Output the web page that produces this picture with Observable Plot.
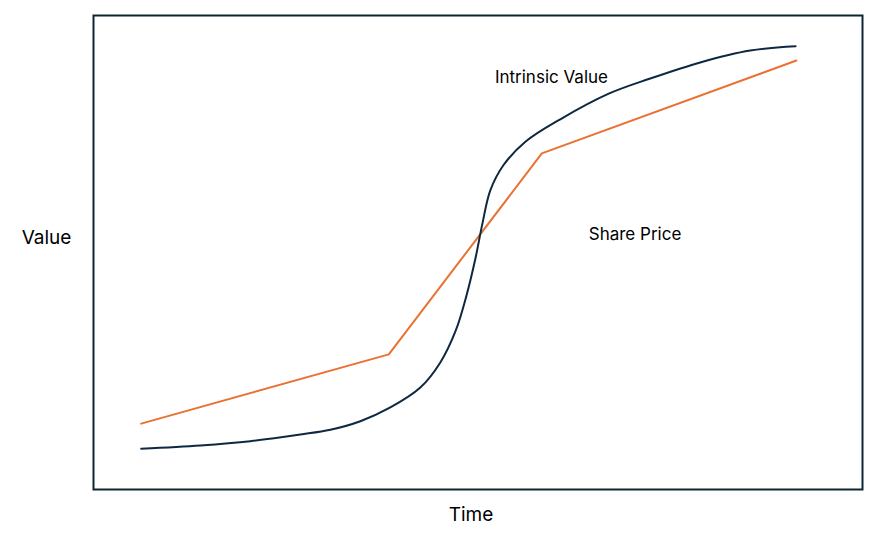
<!DOCTYPE html>
<html>
<head>
<meta charset="utf-8">
<script src="https://cdn.jsdelivr.net/npm/d3@7"></script>
<script src="https://cdn.jsdelivr.net/npm/@observablehq/plot@0.6"></script>
<style>
  html, body { margin: 0; padding: 0; background: #fff; }
  #chart svg { display: block; }
</style>
</head>
<body>
<div id="chart"></div>
<script>
// Time axis (0–100 arbitrary units), Value axis (0–100 arbitrary units)
const intrinsicTime  = [6.2, 13.9, 20.4, 26.9, 30.8, 34.7, 38.6, 42.5, 45.1, 47.1, 48.5, 49.7, 50.6, 51.6, 53.3, 56.2, 60.7, 67.0, 72.4, 78.9, 85.4, 91.3];
const intrinsicValue = [8.6, 9.3, 10.2, 11.6, 12.6, 14.4, 17.3, 21.5, 26.8, 33.5, 40.9, 49.0, 56.3, 63.1, 68.4, 73.4, 78.1, 83.5, 86.7, 90.1, 92.6, 93.5];

const shareTime  = [6.2, 38.4, 58.3, 91.4];
const shareValue = [13.9, 28.5, 70.9, 90.5];

const seriesLabels = ["Intrinsic Value", "Share Price"];
const labelTime  = [52.2, 64.4];
const labelValue = [86.9, 53.8];

const xAxisLabel = "Time";
const yAxisLabel = "Value";

const intrinsic = intrinsicTime.map((t, i) => ({t, v: intrinsicValue[i]}));
const share = shareTime.map((t, i) => ({t, v: shareValue[i]}));
const labels = seriesLabels.map((s, i) => ({s, t: labelTime[i], v: labelValue[i]}));

const navy = "#0E2841";
const orange = "#E97132";

const chart = Plot.plot({
  width: 889,
  height: 535,
  marginLeft: 93,
  marginRight: 27,
  marginTop: 15,
  marginBottom: 46,
  x: {domain: [0, 100], axis: null},
  y: {domain: [0, 100], axis: null},
  style: {fontFamily: "Inter, 'Open Sans', sans-serif", background: "#fff"},
  marks: [
    Plot.line(share, {x: "t", y: "v", stroke: orange, strokeWidth: 2}),
    Plot.line(intrinsic, {x: "t", y: "v", stroke: navy, strokeWidth: 2, curve: "catmull-rom"}),
    Plot.text(labels, {x: "t", y: "v", text: "s", textAnchor: "start", lineAnchor: "middle", fontSize: 17, fill: "#000"}),
    Plot.text([yAxisLabel], {frameAnchor: "left", dx: -47, dy: -15, textAnchor: "middle", lineAnchor: "middle", fontSize: 19, fill: "#000"}),
    Plot.text([xAxisLabel], {frameAnchor: "bottom", dx: -7, dy: 25, textAnchor: "middle", lineAnchor: "middle", fontSize: 19, fill: "#000"}),
    Plot.frame({stroke: "#0c2634", strokeWidth: 2})
  ]
});
document.getElementById("chart").appendChild(chart);
</script>
</body>
</html>
